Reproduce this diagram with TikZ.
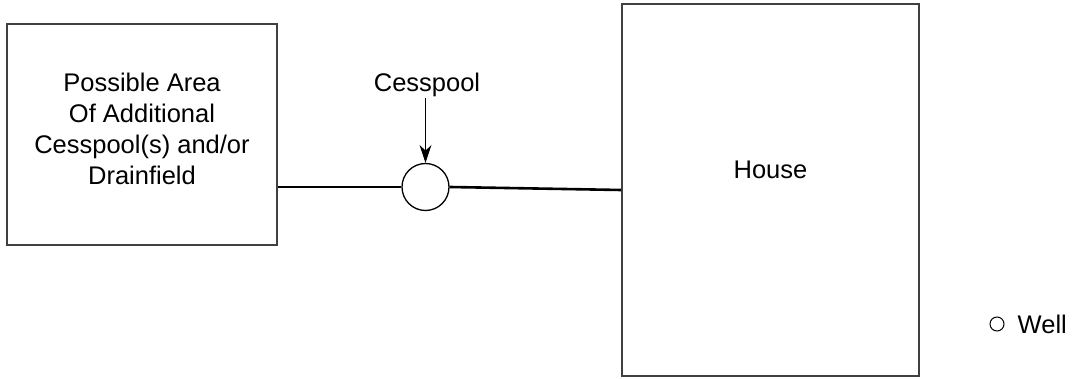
\documentclass[tikz,border=0pt]{standalone}
\usepackage{fontspec}
\setmainfont{Liberation Sans}
\usetikzlibrary{arrows.meta}

\begin{document}
\begin{tikzpicture}[x=1pt, y=-1pt]
        \tikzstyle{every node}=[font=\fontsize{25.5}{31}\selectfont]
        \tikzstyle{plot}=[draw=black!75, line width=1.6pt, inner sep=0pt]
        \tikzstyle{pipe}=[line width=2.6pt]
        \useasboundingbox (0,0) rectangle (1077,379);
        \node [plot, minimum width=270pt, minimum height=221pt, align=center, text depth=12pt] (area) at (142,134.5) {Possible Area\\Of Additional\\Cesspool(s) and/or\\Drainfield};
        \node [plot, minimum width=297pt, minimum height=372pt, text depth=40pt] (house) at (770.5,190) {House};
        \node [circle, draw, line width=1.3pt, minimum size=47pt, inner sep=0pt] (cess) at (425.5,187) {};
        \node [anchor=base, inner sep=1pt] (cesslabel) at (427,92) {Cesspool};
        \node [circle, draw, line width=1pt, minimum size=14pt, inner sep=0pt] (well) at (997,324) {};
        \node [anchor=west, inner sep=0pt] (welllabel) at ([xshift=13pt]well.east) {Well};
        \draw [pipe] (area.east |- cess.west) -- (cess.west);
        \draw [pipe] (cess.east) -- (house.west);
        \draw [line width=1pt, -{Stealth[length=18pt, width=12pt]}] (cesslabel.south -| cess.north) -- (cess.north);
    \end{tikzpicture}
\end{document}
